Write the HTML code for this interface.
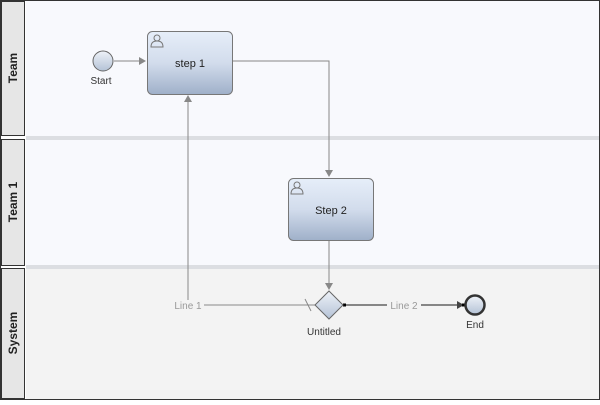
<!DOCTYPE html>
<html><head><style>
body{margin:0;width:600px;height:400px;overflow:hidden;background:#fff;font-family:"Liberation Sans",sans-serif}
</style></head><body>
<svg width="600" height="400" xmlns="http://www.w3.org/2000/svg">
<defs>
<linearGradient id="g" x1="0" y1="0" x2="0" y2="1"><stop offset="0" stop-color="#e6eef9"/><stop offset="0.5" stop-color="#d2dcec"/><stop offset="1" stop-color="#9fb0c9"/></linearGradient>
<linearGradient id="c" x1="0" y1="0" x2="0" y2="1"><stop offset="0" stop-color="#eef2f8"/><stop offset="1" stop-color="#b4c2d6"/></linearGradient>
</defs>
<rect x="0" y="0" width="600" height="400" fill="#333"/>
<rect x="1" y="1" width="598" height="398" fill="#fff"/>
<rect x="26" y="1" width="573" height="135" fill="#f8f9fd"/>
<rect x="26" y="136" width="573" height="4" fill="#dcdee2"/>
<rect x="26" y="140" width="573" height="125" fill="#f8f9fd"/>
<rect x="26" y="265" width="573" height="4" fill="#dcdee2"/>
<rect x="26" y="269" width="573" height="130" fill="#f3f3f3"/>
<rect x="1.5" y="1.5" width="23" height="134" fill="#e6e6e6" stroke="#333"/>
<rect x="1.5" y="139.5" width="23" height="126" fill="#e6e6e6" stroke="#333"/>
<rect x="1.5" y="268.5" width="23" height="130" fill="#e6e6e6" stroke="#333"/>
<g font-weight="bold" font-size="12" fill="#222" text-anchor="middle">
<text transform="translate(17,68) rotate(-90)">Team</text>
<text transform="translate(17,202) rotate(-90)">Team 1</text>
<text transform="translate(17,333) rotate(-90)">System</text>
</g>
<g stroke="#888" stroke-width="1" fill="none">
<line x1="114" y1="61" x2="142" y2="61"/>
<polyline points="232,61 329,61 329,172"/>
<line x1="329" y1="240" x2="329" y2="285"/>
<polyline points="315,305 188,305 188,100"/>
<line x1="305" y1="299" x2="311" y2="311"/>
</g>
<line x1="345" y1="305" x2="460" y2="305" stroke="#444" stroke-width="1.2"/>
<g fill="#888">
<polygon points="146,61 139,57 139,65"/>
<polygon points="329,177 325,170 333,170"/>
<polygon points="329,290 325,283 333,283"/>
<polygon points="188,95 184,102 192,102"/>
</g>
<polygon points="464,305 457,301 457,309" fill="#444"/>
<rect x="343" y="303.5" width="3" height="3" fill="#000"/>
<rect x="462" y="303.5" width="3" height="3" fill="#000"/>
<rect x="172" y="300" width="32" height="11" fill="#f3f3f3"/>
<rect x="387" y="300" width="34" height="11" fill="#f3f3f3"/>
<g font-size="10" fill="#999" text-anchor="middle">
<text x="188" y="309">Line 1</text>
<text x="404" y="309">Line 2</text>
</g>
<circle cx="103" cy="61" r="10" fill="url(#c)" stroke="#666"/>
<text x="101" y="84" font-size="10" fill="#333" text-anchor="middle">Start</text>
<rect x="147.5" y="31.5" width="85" height="63" rx="5" fill="url(#g)" stroke="#777"/>
<text x="190" y="67" font-size="11" fill="#222" text-anchor="middle">step 1</text>
<rect x="288.5" y="178.5" width="85" height="62" rx="5" fill="url(#g)" stroke="#777"/>
<text x="331" y="214" font-size="11" fill="#222" text-anchor="middle">Step 2</text>
<g fill="none" stroke="#777" stroke-width="1">
<circle cx="157" cy="38" r="3"/><path d="M151,47 Q151,41 157,41 Q163,41 163,47 Z"/>
<circle cx="297" cy="185" r="3"/><path d="M291,194 Q291,188 297,188 Q303,188 303,194 Z"/>
</g>
<polygon points="329,291 343,305 329,319 315,305" fill="url(#c)" stroke="#666"/>
<text x="324" y="335" font-size="10" fill="#333" text-anchor="middle">Untitled</text>
<circle cx="475" cy="305" r="9.5" fill="url(#c)" stroke="#333" stroke-width="2.5"/>
<text x="475" y="328" font-size="10" fill="#333" text-anchor="middle">End</text>
</svg>
</body></html>
